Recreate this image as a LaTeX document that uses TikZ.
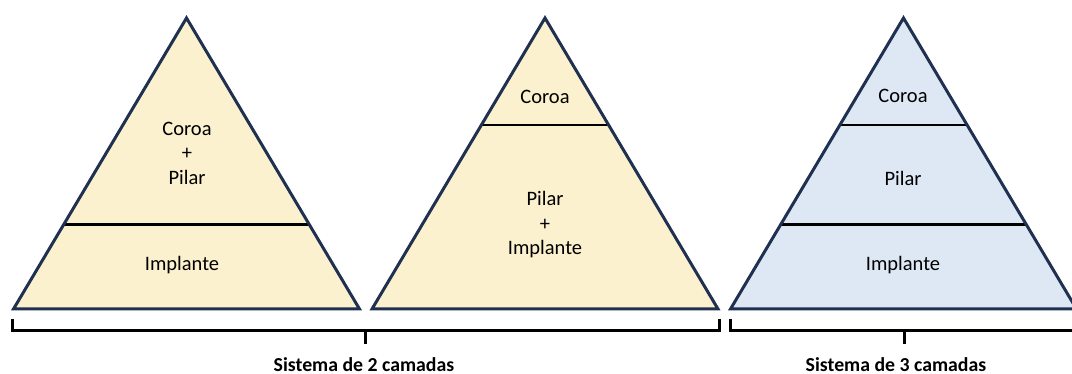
\documentclass[tikz,border=0pt]{standalone}
\usepackage{fontspec}
\setmainfont{Carlito}
\usetikzlibrary{positioning,calc}
\definecolor{cream}{RGB}{252,241,206}
\definecolor{paleblue}{RGB}{222,232,245}
\definecolor{navy}{RGB}{31,48,80}

\begin{document}
\begin{tikzpicture}[x=1pt, y=-1pt,
    pyramid/.style={draw=navy, line width=3pt},
    divider/.style={black, line width=2.8pt},
    layer/.style={font=\fontsize{20.5}{24.5}\selectfont, align=center, inner sep=0pt},
    caption/.style={font=\bfseries\fontsize{19.8}{22}\selectfont, anchor=base, inner sep=0pt},
    bracket/.style={black, line width=3pt}
]
    \useasboundingbox (0,0) rectangle (1072,374);

    % Triangles
    \foreach \n/\x/\c in {1/186.5/cream, 2/545/cream, 3/903.5/paleblue} {
        \coordinate (a\n) at (\x, 18);
        \coordinate (l\n) at (\x-173, 309);
        \coordinate (r\n) at (\x+173, 309);
        \fill[\c] (a\n) -- (l\n) -- (r\n) -- cycle;
    }

    % Dividers
    \draw[divider] ($(a1)!0.711!(l1)$) -- ($(a1)!0.711!(r1)$);
    \draw[divider] ($(a2)!0.368!(l2)$) -- ($(a2)!0.368!(r2)$);
    \draw[divider] ($(a3)!0.368!(l3)$) -- ($(a3)!0.368!(r3)$);
    \draw[divider] ($(a3)!0.711!(l3)$) -- ($(a3)!0.711!(r3)$);

    % Outlines
    \foreach \n in {1,2,3} {
        \draw[pyramid] (a\n) -- (l\n) -- (r\n) -- cycle;
    }

    % Layer labels
    \node[layer] (crownAbut) at (187, 153) {Coroa\\+\\Pilar};
    \node[layer] (implA) at (182, 265) {Implante};
    \node[layer] (crownB) at (545, 97) {Coroa};
    \node[layer] (abutImpl) at (545, 225) {Pilar\\+\\Implante};
    \node[layer] (crownC) at (903, 96) {Coroa};
    \node[layer] (abutC) at (903, 178) {Pilar};
    \node[layer] (implC) at (903, 265) {Implante};

    % Brackets
    \draw[bracket] (12, 319) -- (12, 331) -- (719, 331) -- (719, 319);
    \draw[bracket] (365, 331) -- (365, 344);
    \draw[bracket] (730, 319) -- (730, 331) -- (1080, 331);
    \draw[bracket] (904, 331) -- (904, 344);

    % Captions
    \node[caption] (twoLayer) at (364, 371) {Sistema de 2 camadas};
    \node[caption] (threeLayer) at (896, 371) {Sistema de 3 camadas};
\end{tikzpicture}
\end{document}
